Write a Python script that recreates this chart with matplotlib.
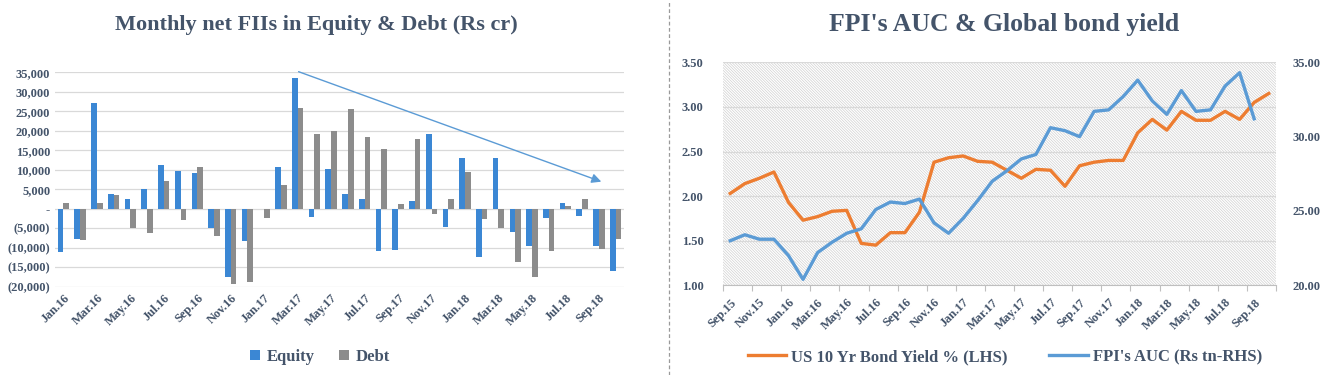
import matplotlib
matplotlib.use("Agg")
import matplotlib.pyplot as plt
import numpy as np
from matplotlib.lines import Line2D
from matplotlib.patches import Rectangle

# ---- data: left chart (Rs cr) ----
months_fii = ['Jan.16', 'Feb.16', 'Mar.16', 'Apr.16', 'May.16', 'Jun.16', 'Jul.16', 'Aug.16',
              'Sep.16', 'Oct.16', 'Nov.16', 'Dec.16', 'Jan.17', 'Feb.17', 'Mar.17', 'Apr.17',
              'May.17', 'Jun.17', 'Jul.17', 'Aug.17', 'Sep.17', 'Oct.17', 'Nov.17', 'Dec.17',
              'Jan.18', 'Feb.18', 'Mar.18', 'Apr.18', 'May.18', 'Jun.18', 'Jul.18', 'Aug.18',
              'Sep.18', 'Oct.18']
equity = [-11200, -7700, 27100, 3800, 2600, 5100, 11200, 9800, 9200, -4900, -17500, -8300,
          0, 10600, 33500, -2000, 10100, 3900, 2600, -10800, -10600, 1900, 19300, -4700,
          12900, -12400, 13100, -6000, -9600, -2400, 1400, -1900, -9600, -15900]
debt = [1500, -7900, 1500, 3500, -4900, -6200, 7000, -2900, 10600, -7000, -19400, -18800,
        -2300, 6000, 25800, 19200, 20000, 25600, 18500, 15200, 1100, 18000, -1300, 2400,
        9300, -2600, -5000, -13600, -17500, -10900, 800, 2400, -10300, -7700]
fii_yticks = [-20000, -15000, -10000, -5000, 0, 5000, 10000, 15000, 20000, 25000, 30000, 35000]
fii_ylabels = ['(20,000)', '(15,000)', '(10,000)', '(5,000)', '-', '5,000', '10,000',
               '15,000', '20,000', '25,000', '30,000', '35,000']

# ---- data: right chart ----
months_bond = ['Sep.15', 'Oct.15', 'Nov.15', 'Dec.15', 'Jan.16', 'Feb.16', 'Mar.16', 'Apr.16',
               'May.16', 'Jun.16', 'Jul.16', 'Aug.16', 'Sep.16', 'Oct.16', 'Nov.16', 'Dec.16',
               'Jan.17', 'Feb.17', 'Mar.17', 'Apr.17', 'May.17', 'Jun.17', 'Jul.17', 'Aug.17',
               'Sep.17', 'Oct.17', 'Nov.17', 'Dec.17', 'Jan.18', 'Feb.18', 'Mar.18', 'Apr.18',
               'May.18', 'Jun.18', 'Jul.18', 'Aug.18', 'Sep.18', 'Oct.18']
us_yield = [2.03, 2.14, 2.20, 2.27, 1.93, 1.73, 1.77, 1.83, 1.84, 1.47, 1.45, 1.59, 1.59,
            1.82, 2.38, 2.43, 2.45, 2.39, 2.38, 2.29, 2.20, 2.30, 2.29, 2.11, 2.34, 2.38,
            2.40, 2.40, 2.71, 2.86, 2.74, 2.95, 2.85, 2.85, 2.95, 2.86, 3.05, 3.15]
fpi_auc = [23.0, 23.4, 23.1, 23.1, 22.0, 20.4, 22.2, 22.9, 23.5, 23.8, 25.1, 25.6, 25.5,
           25.8, 24.2, 23.5, 24.5, 25.7, 27.0, 27.7, 28.5, 28.8, 30.6, 30.4, 30.0, 31.7,
           31.8, 32.7, 33.8, 32.4, 31.5, 33.1, 31.7, 31.8, 33.4, 34.3, 31.2]

TXT = '#44546A'
GRID = '#D9D9D9'
plt.rcParams['font.family'] = 'Liberation Serif'
plt.rcParams['font.weight'] = 'bold'
plt.rcParams['hatch.linewidth'] = 0.5

fig = plt.figure(figsize=(13.2, 3.75), dpi=100)

# ---------------- left: monthly net FIIs ----------------
ax = fig.add_axes([55 / 1320, 1 - 286.7 / 375, 569 / 1320, 214.4 / 375])
x = np.arange(len(months_fii))
w = 0.34
ax.bar(x - w / 2, equity, w, color='#3B87D4', label='Equity', zorder=2)
ax.bar(x + w / 2, debt, w, color='#8C8C8C', label='Debt', zorder=2)
ax.set_xlim(-0.5, len(months_fii) - 0.5)
ax.set_ylim(-20000, 35000)
ax.set_yticks(fii_yticks)
ax.set_yticklabels(fii_ylabels)
ax.yaxis.grid(True, color=GRID, lw=0.9)
ax.set_axisbelow(True)
ax.set_xticks(x[::2])
ax.set_xticklabels(months_fii[::2], rotation=45, ha='right', rotation_mode='anchor')
ax.tick_params(length=0, labelsize=9, labelcolor=TXT)
ax.tick_params(axis='x', pad=4)
for s in ax.spines.values():
    s.set_visible(False)

# trend arrow
ax.annotate('', xy=(32.3, 6700), xytext=(13.9, 35400),
            arrowprops=dict(arrowstyle='-|>', color='#5B9BD5', lw=1,
                            mutation_scale=14), annotation_clip=False)

fig.text(316 / 1320, 1 - 25 / 375, 'Monthly net FIIs in Equity & Debt (Rs cr)',
         ha='center', va='center', fontsize=16, color=TXT, fontweight='bold')
fig.legend(*ax.get_legend_handles_labels(), loc='center', bbox_to_anchor=(320 / 1320, 1 - 357 / 375),
           ncol=2, frameon=False, fontsize=12, labelcolor=TXT, handlelength=0.6,
           handleheight=0.6, handletextpad=0.4, columnspacing=1.5)

# ---------------- right: FPI AUC & bond yield ----------------
ax1 = fig.add_axes([723 / 1320, 1 - 285.3 / 375, 553 / 1320, 223 / 375])
ax2 = ax1.twinx()
ax1.add_patch(Rectangle((0, 0), 1, 1, transform=ax1.transAxes, facecolor='white',
                        edgecolor='#D0D0D0', hatch='\\' * 12, lw=0, zorder=0.1))
xb = np.arange(len(months_bond)) + 0.5
ax1.plot(xb, us_yield, color='#ED7D31', lw=2.4, label='US 10 Yr Bond Yield % (LHS)',
         solid_joinstyle='round', zorder=3)
ax2.plot(xb[:len(fpi_auc)], fpi_auc, color='#5B9BD5', lw=2.4, label="FPI's AUC (Rs tn-RHS)",
         solid_joinstyle='round', zorder=3)
ax1.set_xlim(0, len(months_bond))
ax1.set_ylim(1.0, 3.5)
ax2.set_ylim(20, 35)
ax1.set_yticks(np.arange(1.0, 3.51, 0.5))
ax1.set_yticklabels(['%.2f' % v for v in np.arange(1.0, 3.51, 0.5)])
ax2.set_yticks([20, 25, 30, 35])
ax2.set_yticklabels(['%.2f' % v for v in [20, 25, 30, 35]])
ax1.yaxis.grid(True, color=GRID, lw=0.9)
ax1.set_axisbelow(True)
ax1.set_xticks(np.arange(0, len(months_bond) + 1, 2))
ax1.set_xticklabels([])
ax1.set_xticks(xb[::2], minor=True)
ax1.set_xticklabels(months_bond[::2], minor=True, rotation=45, ha='right',
                    rotation_mode='anchor')
ax1.tick_params(axis='x', which='major', length=4, color='#BFBFBF')
ax1.tick_params(axis='x', which='minor', length=0, pad=8)
ax1.tick_params(axis='y', length=0, pad=14)
ax2.tick_params(axis='y', length=0, pad=12)
for a in (ax1, ax2):
    a.tick_params(labelsize=9, labelcolor=TXT, which='both')
    for s in a.spines.values():
        s.set_visible(False)
ax1.spines['bottom'].set_visible(True)
ax1.spines['bottom'].set_color('#BFBFBF')

fig.text(1004 / 1320, 1 - 25 / 375, "FPI's AUC & Global bond yield",
         ha='center', va='center', fontsize=18.5, color=TXT, fontweight='bold')
h1, l1 = ax1.get_legend_handles_labels()
h2, l2 = ax2.get_legend_handles_labels()
fig.legend(h1 + h2, l1 + l2, loc='center', bbox_to_anchor=(1005 / 1320, 1 - 357 / 375),
           ncol=2, frameon=False, fontsize=12, labelcolor=TXT, handlelength=2.3,
           handletextpad=0.3, columnspacing=2.5)

# dashed separator between panels
fig.add_artist(Line2D([669 / 1320, 669 / 1320], [0, 1], transform=fig.transFigure,
                      color='#9A9A9A', lw=0.9, ls=(0, (3, 2))))

fig.savefig('out.png', dpi=100, facecolor='white')
